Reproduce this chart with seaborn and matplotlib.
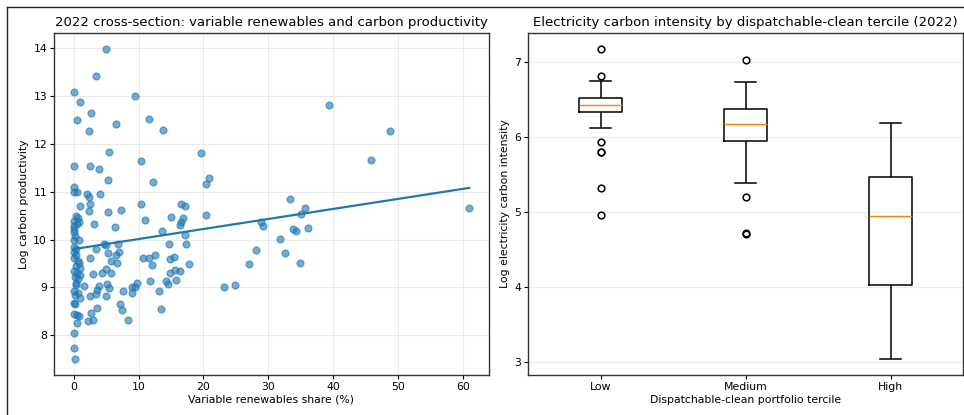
import matplotlib
matplotlib.use("Agg")
import matplotlib.pyplot as plt
from matplotlib.lines import Line2D
import numpy as np
import pandas as pd
import seaborn as sns

# ---------------- data ----------------
vre_share = [
    5.0, 3.4, 0.0, 9.4, 1.0, 2.6, 0.5, 6.5, 11.6, 2.3, 13.7, 39.4, 48.8, 45.8, 5.4, 19.7,
    0.0, 2.5, 3.9, 10.3, 5.3, 12.2, 20.8, 20.4, 0.0, 0.1, 0.5, 2.0, 2.3, 4.0, 2.5, 0.9,
    10.4, 16.5, 17.2, 33.4, 35.6, 61.0, 2.4, 5.3, 7.3, 20.4, 0.3, 0.6, 11.0, 0.0, 16.8,
    15.0, 16.4, 16.6, 0.5, 0.8, 0.0, 3.1, 6.4, 13.6, 28.9, 29.2, 35.0, 33.8, 34.3, 36.2,
    17.2, 0.1, 0.0, 0.2, 0.0, 0.8, 31.8, 28.1, 32.6, 34.9, 27.0, 17.3, 14.7, 4.7, 5.0,
    6.8, 3.5, 7.0, 6.5, 5.3, 0.0, 0.3, 0.1, 0.4, 0.0, 0.6, 0.8, 0.3, 0.9, 0.0, 0.5, 1.0,
    0.2, 0.7, 0.4, 2.5, 5.8, 6.7, 10.7, 11.6, 12.6, 15.5, 14.8, 12.0, 17.8, 15.6, 14.8,
    16.4, 5.0, 4.3, 5.8, 3.0, 11.8, 14.2, 14.5, 15.8, 1.6, 3.9, 5.1, 5.5, 9.7, 9.5, 9.0,
    9.0, 13.2, 7.6, 23.1, 24.8, 3.6, 3.4, 2.5, 4.9, 7.1, 7.4, 13.4, 3.6, 2.7, 8.3, 2.2,
    3.0, 0.3, 0.0, 0.6, 0.2, 0.9, 0.0, 0.2, 0.0, 0.5, 0.8, 0.5, 0.0, 0.0, 0.2,
]
log_carbon_prod = [
    13.98, 13.40, 13.07, 13.00, 12.86, 12.64, 12.50, 12.40, 12.51, 12.27, 12.29, 12.81,
    12.26, 11.66, 11.83, 11.81, 11.54, 11.53, 11.46, 11.63, 11.23, 11.19, 11.28, 11.15,
    11.10, 11.00, 10.98, 10.94, 10.88, 10.95, 10.74, 10.70, 10.74, 10.73, 10.69, 10.84,
    10.65, 10.65, 10.60, 10.58, 10.61, 10.52, 10.49, 10.45, 10.40, 10.39, 10.45, 10.46,
    10.30, 10.36, 10.32, 10.36, 10.28, 10.33, 10.26, 10.18, 10.37, 10.29, 10.54, 10.22,
    10.17, 10.25, 10.09, 10.22, 10.15, 10.08, 10.00, 10.00, 10.02, 9.78, 9.71, 9.51,
    9.48, 9.90, 9.90, 9.90, 9.88, 9.90, 9.80, 9.74, 9.67, 9.71, 9.84, 9.80, 9.73, 9.68,
    9.62, 9.55, 9.50, 9.45, 9.40, 9.35, 9.30, 9.27, 9.22, 9.18, 9.10, 9.62, 9.55, 9.52,
    9.61, 9.61, 9.67, 9.64, 9.59, 9.46, 9.48, 9.37, 9.31, 9.34, 9.38, 9.30, 9.31, 9.28,
    9.13, 9.14, 9.07, 9.15, 9.03, 9.04, 9.07, 8.98, 9.09, 9.00, 9.02, 8.88, 8.93, 8.93,
    9.01, 9.05, 8.94, 8.86, 8.82, 8.82, 8.66, 8.54, 8.55, 8.58, 8.46, 8.32, 8.30, 8.33,
    9.05, 8.92, 8.88, 8.84, 8.78, 8.68, 8.65, 8.44, 8.42, 8.40, 8.27, 8.05, 7.73, 7.50,
]

terciles = ["Low", "Medium", "High"]
intensity_low = [4.95, 5.32, 5.79, 5.80, 5.93, 6.117, 6.322, 6.34, 6.36, 6.38, 6.39, 6.40,
                 6.416, 6.43, 6.45, 6.47, 6.48, 6.50, 6.51, 6.55, 6.60, 6.68, 6.746, 6.81, 7.174]
intensity_medium = [4.70, 4.72, 5.198, 5.386, 5.62, 5.85, 5.948, 5.99, 6.03, 6.07, 6.10, 6.13,
                    6.162, 6.19, 6.22, 6.26, 6.30, 6.34, 6.371, 6.42, 6.50, 6.60, 6.65, 6.724, 7.027]
intensity_high = [3.031, 3.30, 3.55, 3.75, 3.88, 3.95, 4.021, 4.20, 4.40, 4.58, 4.72, 4.85,
                  4.949, 5.02, 5.10, 5.20, 5.30, 5.40, 5.462, 5.60, 5.75, 5.90, 6.00, 6.10, 6.184]

scatter_df = pd.DataFrame({"vre": vre_share, "lcp": log_carbon_prod})
box_df = pd.DataFrame({
    "tercile": ["Low"] * len(intensity_low) + ["Medium"] * len(intensity_medium)
               + ["High"] * len(intensity_high),
    "lci": intensity_low + intensity_medium + intensity_high,
})

# ---------------- figure ----------------
W, H = 964, 415
fig = plt.figure(figsize=(W / 100, H / 100), dpi=100)
fig.patch.set_facecolor("white")

title_fs = 9.5
label_fs = 7.8
tick_fs = 7.8

ax1 = fig.add_axes([54 / W, 1 - 375 / H, (489 - 54) / W, (375 - 33) / H])
ax2 = fig.add_axes([528 / W, 1 - 375 / H, (963 - 528) / W, (375 - 33) / H])

blue = "#1f77b4"
sns.regplot(data=scatter_df, x="vre", y="lcp", ax=ax1, ci=None, color=blue,
            scatter_kws={"s": 24, "alpha": 0.6, "linewidths": 1.0},
            line_kws={"linewidth": 1.6})
ax1.set_title("2022 cross-section: variable renewables and carbon productivity",
              fontsize=title_fs, pad=5)
ax1.set_xlabel("Variable renewables share (%)", fontsize=label_fs, labelpad=2)
ax1.set_ylabel("Log carbon productivity", fontsize=label_fs, labelpad=3)
ax1.grid(True, alpha=0.25, linewidth=0.8)
ax1.set_axisbelow(True)
ax1.tick_params(labelsize=tick_fs, length=3, pad=2)

sns.boxplot(data=box_df, x="tercile", y="lci", order=terciles, ax=ax2, width=0.3,
            fill=False, color="black", linewidth=1.1, whis=1.5,
            medianprops={"color": "#ff7f0e", "linewidth": 1.0},
            flierprops={"marker": "o", "markersize": 4.8, "markerfacecolor": "none",
                        "markeredgecolor": "black", "markeredgewidth": 1.1})
ax2.set_title("Electricity carbon intensity by dispatchable-clean tercile (2022)",
              fontsize=title_fs, pad=5)
ax2.set_xlabel("Dispatchable-clean portfolio tercile", fontsize=label_fs, labelpad=2)
ax2.set_ylabel("Log electricity carbon intensity", fontsize=label_fs, labelpad=3)
ax2.grid(True, axis="y", alpha=0.25, linewidth=0.8)
ax2.set_axisbelow(True)
ax2.set_xlim(-0.5, 2.5)
ax2.tick_params(labelsize=tick_fs, length=3, pad=2)

for ax in (ax1, ax2):
    for sp in ax.spines.values():
        sp.set_linewidth(1.0)
        sp.set_color("#333333")

# screenshot frame
fig.add_artist(Line2D([7 / W, 1], [1 - 7 / H, 1 - 7 / H], transform=fig.transFigure,
                      color="#222222", linewidth=1.0))
fig.add_artist(Line2D([7 / W, 7 / W], [0, 1 - 7 / H], transform=fig.transFigure,
                      color="#222222", linewidth=1.0))

fig.savefig("out.png", dpi=100)
